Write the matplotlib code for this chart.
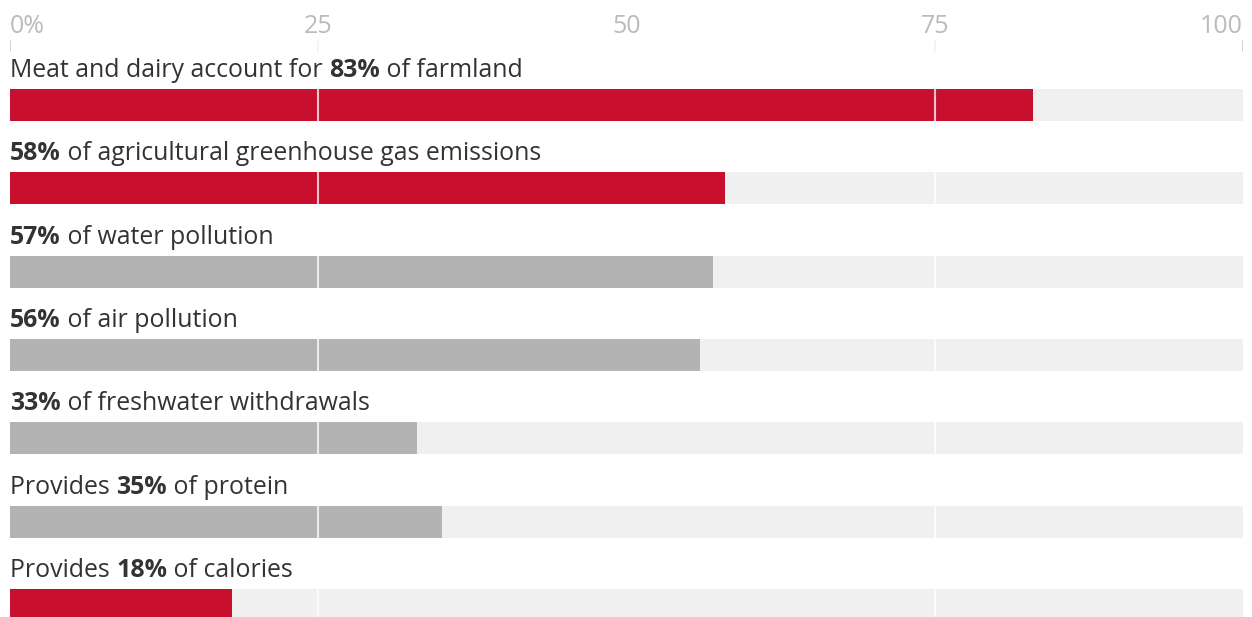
import matplotlib.pyplot as plt
import numpy as np

plt.rcParams['font.family'] = ['Open Sans', 'DejaVu Sans']

# label text is split so the figure can be set in bold
prefixes = ['Meat and dairy account for ', '', '', '', '', 'Provides ', 'Provides ']
bold_parts = ['83%', '58%', '57%', '56%', '33%', '35%', '18%']
suffixes = [' of farmland', ' of agricultural greenhouse gas emissions', ' of water pollution',
            ' of air pollution', ' of freshwater withdrawals', ' of protein', ' of calories']
values = [83, 58, 57, 56, 33, 35, 18]
highlight = [True, True, False, False, False, False, True]
ticks = [0, 25, 50, 75, 100]
tick_labels = ['0%', '25', '50', '75', '100']
tick_marks = [0, 25, 75, 100]
grid_lines = [25, 75]

RED = '#c8102e'
GREY = '#b3b3b3'
TRACK = '#f0f0f0'
TEXT = '#333333'
LABEL_SIZE = 17.9

fig = plt.figure(figsize=(12.52, 6.17), dpi=100)
ax = fig.add_axes([10 / 1252, 0, 1233 / 1252, 1])
ax.set_xlim(0, 100)
ax.set_ylim(6.144, -1.26)
ax.axis('off')

rows = np.arange(len(values))
bar_h = 0.384

ax.barh(rows, [100] * len(rows), height=bar_h, color=TRACK, zorder=1)
ax.barh(rows, values, height=bar_h, color=[RED if h else GREY for h in highlight], zorder=2)

# light gridlines over the bars
for t in grid_lines:
    ax.axvline(t, color='white', lw=1.5, alpha=0.75, zorder=3)

# top scale
for t, lab in zip(ticks, tick_labels):
    ha = 'left' if t == 0 else ('right' if t == 100 else 'center')
    ax.text(t, -0.864, lab, ha=ha, va='baseline', fontsize=18, color='#bbbbbb')
for t in tick_marks:
    ax.plot([t, t], [-0.768, -0.648], color='#cccccc', lw=1.2, zorder=1)

# row labels, with the percentage in bold; pieces are chained end to end
for i in rows:
    parts = [(prefixes[i], 'normal'), (bold_parts[i], 'bold'), (suffixes[i], 'normal')]
    parts = [p for p in parts if p[0]]
    prev = None
    for part, weight in parts:
        if prev is None:
            prev = ax.text(0, i - 0.336, part, ha='left', va='baseline',
                           fontsize=LABEL_SIZE, color=TEXT, fontweight=weight)
        else:
            prev = ax.annotate(part, xy=(1, 0), xycoords=prev, ha='left', va='bottom',
                               fontsize=LABEL_SIZE, color=TEXT, fontweight=weight)

fig.savefig('out.png', dpi=100)
